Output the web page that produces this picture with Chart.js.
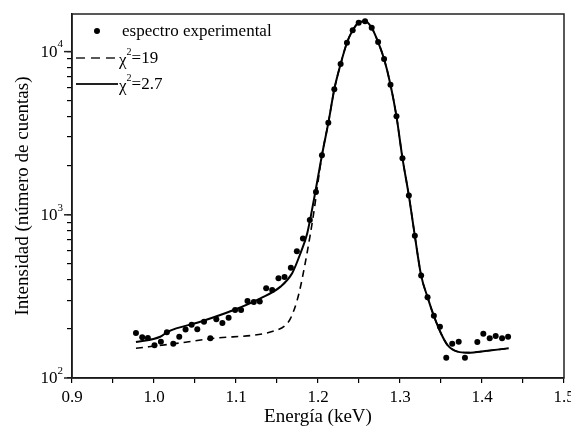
<!DOCTYPE html>
<html>
<head>
<meta charset="utf-8">
<script src="https://cdn.jsdelivr.net/npm/chart.js@4.4.0/dist/chart.umd.min.js"></script>
<style>
  html, body { margin: 0; padding: 0; background: #fff; }
  #wrap { width: 571px; height: 428px; }
</style>
</head>
<body>
<div id="wrap"><canvas id="myChart" width="571" height="428"></canvas></div>
<script>
// experimental spectrum (keV, counts)
var expX = [0.978, 0.9856, 0.9925, 1.0006, 1.0084, 1.0157, 1.0235, 1.0308, 1.0385, 1.0459,
            1.0528, 1.061, 1.0687, 1.076, 1.0834, 1.091, 1.0989, 1.1062, 1.114, 1.1217,
            1.129, 1.1368, 1.1441, 1.1518, 1.1592, 1.1669, 1.1742, 1.1816, 1.19, 1.1975,
            1.2048, 1.2126, 1.2199, 1.2276, 1.2353, 1.2423, 1.2496, 1.2574, 1.2655, 1.2733,
            1.2806, 1.2884, 1.2957, 1.303, 1.3108, 1.3181, 1.3258, 1.3336, 1.3413, 1.3487,
            1.3564, 1.3637, 1.3716, 1.3792, 1.3943, 1.4016, 1.4094, 1.4167, 1.4245, 1.4318];
var expY = [189, 178, 176, 159, 167, 191, 162, 179, 198, 212,
            199, 221, 175, 229, 217, 234, 261, 261, 296, 292,
            294, 355, 346, 409, 416, 473, 599, 715, 930, 1378,
            2316, 3659, 5881, 8390, 11330, 13500, 15050, 15350, 14000, 11440,
            9000, 6270, 4010, 2223, 1312, 743, 424, 313, 241, 206,
            133, 162, 167, 133, 166, 187, 175, 181, 175, 179];

// fit chi2 = 2.7 (solid)
var fitAX = [0.978, 1.0076, 1.0167, 1.0565, 1.0972, 1.1298, 1.1543, 1.1685, 1.1787, 1.1869, 1.195,
             1.2048, 1.2126, 1.2199, 1.2276, 1.2353, 1.2423, 1.2496, 1.2574, 1.2655, 1.2733,
             1.2806, 1.2884, 1.2957, 1.303, 1.3108, 1.3181, 1.3258, 1.3336, 1.3413, 1.3499,
             1.358, 1.3703, 1.3825, 1.407, 1.4326];
var fitAY = [166, 179, 192, 221, 261, 308, 363, 439, 583, 772, 1236,
             2316, 3659, 5881, 8390, 11330, 13500, 15050, 15350, 14000, 11440,
             9000, 6270, 4010, 2223, 1312, 743, 424, 313, 240, 188,
             159, 145, 143, 147, 152];

// fit chi2 = 19 (dashed)
var fitBX = [0.978, 1.0235, 1.0687, 1.1502, 1.1604, 1.1665, 1.1747, 1.1808, 1.1938,
             1.2048, 1.2126, 1.2199, 1.2276, 1.2353, 1.2423, 1.2496, 1.2574, 1.2655, 1.2733,
             1.2806, 1.2884, 1.2957, 1.303, 1.3108, 1.3181, 1.3258, 1.3336, 1.3413, 1.3499,
             1.358, 1.3703, 1.3825, 1.407, 1.4326];
var fitBY = [152, 162, 174, 197, 211, 232, 301, 408, 953,
             2316, 3659, 5881, 8390, 11330, 13500, 15050, 15350, 14000, 11440,
             9000, 6270, 4010, 2223, 1312, 743, 424, 313, 240, 188,
             159, 145, 143, 147, 152];

var legendLabels = ['espectro experimental', '\u03c7', '\u03c7'];
var legendTail = ['', '=19', '=2.7'];
var yDecades = [100, 1000, 10000];
var yExp = ['2', '3', '4'];

var serif = '"Liberation Serif", "Times New Roman", serif';

function pts(xs, ys) {
    return xs.map(function (x, i) { return { x: x, y: ys[i] }; });
}

var frame = {
    id: 'frame',
    afterDraw: function (chart) {
        var ctx = chart.ctx;
        var a = chart.chartArea;
        var ys = chart.scales.y;
        ctx.save();
        ctx.strokeStyle = '#222';
        ctx.lineWidth = 1.5;
        ctx.strokeRect(a.left, a.top, a.right - a.left, a.bottom - a.top);

        // decade labels on y axis with superscript
        ctx.fillStyle = '#000';
        ctx.textBaseline = 'middle';
        yDecades.forEach(function (v, i) {
            var py = ys.getPixelForValue(v);
            ctx.beginPath();
            ctx.moveTo(a.left - 8, py);
            ctx.lineTo(a.left, py);
            ctx.stroke();
            ctx.font = '11px ' + serif;
            ctx.textAlign = 'left';
            var ew = ctx.measureText(yExp[i]).width;
            var right = 63;
            ctx.fillText(yExp[i], right - ew, py - 7);
            ctx.font = '17px ' + serif;
            ctx.textAlign = 'right';
            ctx.fillText('10', right - ew, py + 1);
        });

        // legend
        var rows = [31, 58, 84];
        ctx.lineWidth = 1.5;
        ctx.beginPath();
        ctx.arc(97, rows[0], 3, 0, Math.PI * 2);
        ctx.fill();
        ctx.setLineDash([9, 6]);
        ctx.beginPath();
        ctx.moveTo(76, rows[1]);
        ctx.lineTo(118, rows[1]);
        ctx.stroke();
        ctx.setLineDash([]);
        ctx.lineWidth = 2;
        ctx.beginPath();
        ctx.moveTo(76, rows[2]);
        ctx.lineTo(118, rows[2]);
        ctx.stroke();

        ctx.textAlign = 'left';
        ctx.font = '17px ' + serif;
        ctx.fillText(legendLabels[0], 122, rows[0] + 1);
        for (var r = 1; r < 3; r++) {
            ctx.font = '17px ' + serif;
            ctx.fillText(legendLabels[r], 119, rows[r] + 3);
            var cw = ctx.measureText(legendLabels[r]).width;
            ctx.font = '10px ' + serif;
            ctx.fillText('2', 119 + cw, rows[r] - 6);
            var sw = ctx.measureText('2').width;
            ctx.font = '17px ' + serif;
            ctx.fillText(legendTail[r], 119 + cw + sw, rows[r] + 1);
        }
        ctx.restore();
    }
};

var ctx = document.getElementById('myChart').getContext('2d');
var myChart = new Chart(ctx, {
    type: 'scatter',
    data: {
        datasets: [{
            label: 'espectro experimental',
            data: pts(expX, expY),
            showLine: false,
            pointRadius: 3,
            pointBackgroundColor: '#000',
            pointBorderWidth: 0,
            order: 0
        }, {
            label: 'chi2=19',
            data: pts(fitBX, fitBY),
            showLine: true,
            borderColor: '#000',
            borderWidth: 1.6,
            borderDash: [7, 5],
            pointRadius: 0,
            cubicInterpolationMode: 'monotone',
            order: 2
        }, {
            label: 'chi2=2.7',
            data: pts(fitAX, fitAY),
            showLine: true,
            borderColor: '#000',
            borderWidth: 2,
            pointRadius: 0,
            cubicInterpolationMode: 'monotone',
            order: 1
        }]
    },
    options: {
        responsive: false,
        animation: false,
        events: [],
        layout: { padding: { top: 14, right: 7, left: 0, bottom: 0 } },
        plugins: { legend: { display: false }, tooltip: { enabled: false } },
        scales: {
            x: {
                type: 'linear',
                min: 0.9,
                max: 1.5,
                afterFit: function (s) {
                    s.height = 50;
                    s.paddingLeft = 0;
                    s.paddingRight = 0;
                },
                border: { display: true, color: '#000', width: 1.5 },
                grid: { drawOnChartArea: false, drawTicks: true, tickLength: 5, color: '#000', lineWidth: 1.2 },
                ticks: {
                    stepSize: 0.05,
                    autoSkip: false,
                    maxRotation: 0,
                    padding: 4,
                    color: '#000',
                    font: { family: serif, size: 17 },
                    callback: function (v) {
                        var t = Math.round(v * 100);
                        return t % 10 === 0 ? (t / 100).toFixed(1) : '';
                    }
                },
                title: {
                    display: true,
                    text: 'Energía (keV)',
                    color: '#000',
                    font: { family: serif, size: 19, lineHeight: 1 },
                    padding: { top: 0, bottom: 1 }
                }
            },
            y: {
                type: 'logarithmic',
                min: 100,
                max: 17000,
                afterFit: function (s) {
                    s.width = 72;
                    s.paddingTop = 0;
                    s.paddingBottom = 0;
                },
                afterBuildTicks: function (s) {
                    var t = [];
                    [100, 1000].forEach(function (d) {
                        for (var k = 1; k < 10; k++) t.push({ value: d * k });
                    });
                    t.push({ value: 10000 });
                    s.ticks = t;
                },
                border: { display: true, color: '#000', width: 1.5 },
                grid: { drawOnChartArea: false, drawTicks: true, tickLength: 5, color: '#000', lineWidth: 1.2 },
                ticks: {
                    autoSkip: false,
                    color: '#000',
                    callback: function () { return ''; }
                },
                title: {
                    display: true,
                    text: 'Intensidad (número de cuentas)',
                    color: '#000',
                    font: { family: serif, size: 19, lineHeight: 1.2 },
                    padding: { top: 12, bottom: 0 }
                }
            }
        }
    },
    plugins: [frame]
});
</script>
</body>
</html>
